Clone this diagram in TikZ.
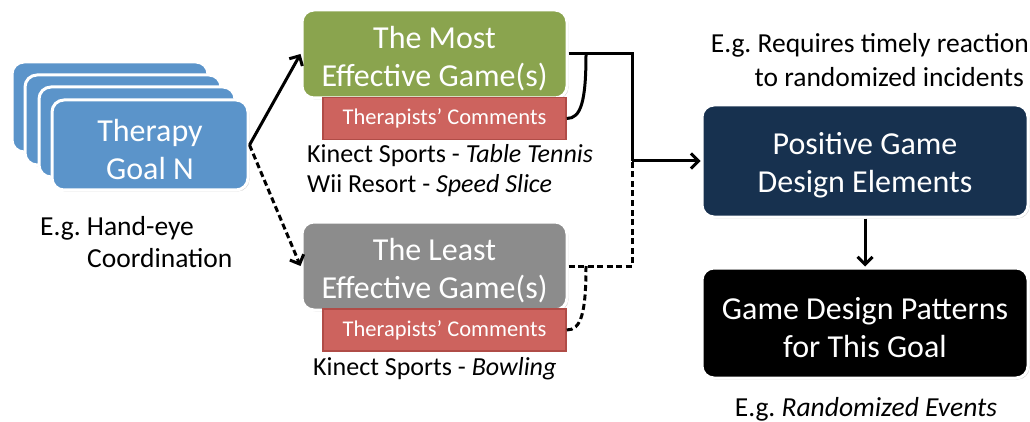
\documentclass[tikz,border=0pt]{standalone}
\usepackage{fontspec}
\setmainfont{Carlito}
\usetikzlibrary{arrows.meta,shadows}
\frenchspacing
\definecolor{goalblue}{HTML}{5B94CA}
\definecolor{mostgreen}{HTML}{8AA44E}
\definecolor{leastgray}{HTML}{8C8C8C}
\definecolor{commentred}{HTML}{CD635E}
\definecolor{commentedge}{HTML}{B04C47}
\definecolor{navy}{HTML}{17314F}
% taller first line, so the two lines sit a little lower in their card
\newcommand{\cardstrut}{\rule{0pt}{31pt}}
\tikzset{
  card/.style={rounded corners=12pt, draw=white, line width=3pt, text=white,
    inner sep=0pt, align=center, font=\fontsize{32}{38}\selectfont,
    drop shadow={opacity=0.35, shadow xshift=1.5pt, shadow yshift=-1.5pt}},
  comment/.style={fill=commentred, draw=commentedge, line width=1.5pt, text=white,
    inner sep=0pt, minimum width=243pt, minimum height=42pt,
    font=\fontsize{22.5}{26}\selectfont},
  caption/.style={inner sep=0pt, font=\fontsize{26}{30}\selectfont},
  bigcaption/.style={inner sep=0pt, font=\fontsize{27.5}{32}\selectfont},
  link/.style={line width=3pt, -{Straight Barb[length=7.5pt,width=15pt,line width=3pt]}},
  plain/.style={line width=3pt},
  dashlink/.style={line width=3pt, dash pattern=on 6pt off 3.5pt}
}
\begin{document}
\begin{tikzpicture}[x=1pt,y=-1pt]
\useasboundingbox (0,0) rectangle (1030,422);

% stack of therapy goal cards
\foreach \i/\cx/\cy in {1/110/107, 2/123/120, 3/137/132}
  \node[card, fill=goalblue, minimum width=196pt, minimum height=90pt] (back\i) at (\cx,\cy) {};
\node[card, fill=goalblue, minimum width=196pt, minimum height=90pt] (goal) at (150,145) {\cardstrut Therapy\\Goal N};
\node[bigcaption, anchor=base west] (eg1) at (40,235) {E.g. Hand-eye};
\node[bigcaption, anchor=base west] (eg2) at (87,267) {Coordination};

% most / least effective games
\node[card, fill=mostgreen, minimum width=265pt, minimum height=88pt] (most) at (434.5,54) {\cardstrut The Most\\Effective Game(s)};
\node[comment] (cm1) at (444.5,118.5) {Therapists’ Comments};
\node[caption, anchor=base west] (tt) at (307,163) {Kinect Sports - \textit{Table Tennis}};
\node[caption, anchor=base west] (ss) at (307,193) {Wii Resort - \textit{Speed Slice}};

\node[card, fill=leastgray, minimum width=265pt, minimum height=88pt] (least) at (434.5,266) {\cardstrut The Least\\Effective Game(s)};
\node[comment] (cm2) at (444.5,330) {Therapists’ Comments};
\node[caption, anchor=base west] (bw) at (313,375) {Kinect Sports - \textit{Bowling}};

% design elements and patterns
\node[card, fill=navy, minimum width=326pt, minimum height=112pt] (pos) at (865,161) {\cardstrut Positive Game\\Design Elements};
\node[card, fill=black, minimum width=326pt, minimum height=110pt] (pat) at (865,323) {\cardstrut Game Design Patterns\\for This Goal};
\node[bigcaption, anchor=base east] (rq1) at (1029,53) {E.g. Requires timely reaction};
\node[bigcaption, anchor=base east] (rq2) at (1024,87) {to randomized incidents};
\node[bigcaption, anchor=base] (rnd) at (866,416) {E.g. \textit{Randomized Events}};

% connectors
\coordinate (j) at (632,161);
\coordinate (c1) at (586,54);
\coordinate (c2) at (586,266);
\draw[link] (goal.east) -- (most.west);
\draw[link, dash pattern=on 6pt off 3.5pt] (goal.east) -- (least.west);
\draw[plain] (most.east) -| (j);
\draw[link] (j) -- (pos.west);
\draw[dashlink] (least.east) -| (j);
\draw[plain] (c1) .. controls +(0,48) and +(14,0) .. (cm1.east);
\draw[dashlink] (c2) .. controls +(0,48) and +(14,0) .. (cm2.east);
\draw[link] (pos.south) -- (pat.north);
\end{tikzpicture}
\end{document}
